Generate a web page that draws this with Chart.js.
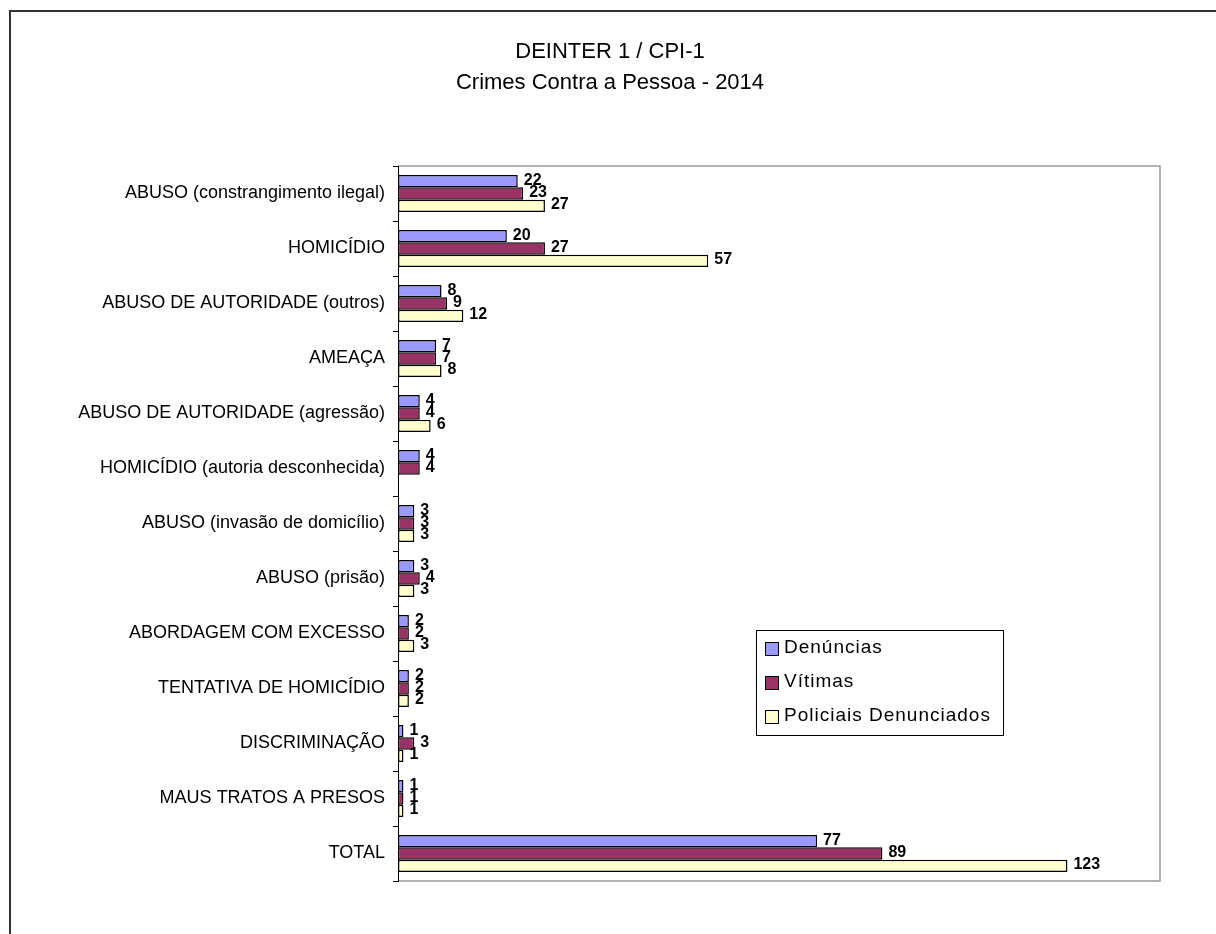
<!DOCTYPE html>
<html>
<head>
<meta charset="utf-8">
<script src="https://cdn.jsdelivr.net/npm/chart.js@4"></script>
<style>
  html, body { margin: 0; padding: 0; background: #fff; }
  #wrap { width: 1216px; height: 934px; }
</style>
</head>
<body>
<div id="wrap"><canvas id="crimesChart" width="1216" height="934"></canvas></div>
<script>
const categories = [
  'ABUSO (constrangimento ilegal)',
  'HOMICÍDIO',
  'ABUSO DE AUTORIDADE (outros)',
  'AMEAÇA',
  'ABUSO DE AUTORIDADE (agressão)',
  'HOMICÍDIO (autoria desconhecida)',
  'ABUSO (invasão de domicílio)',
  'ABUSO (prisão)',
  'ABORDAGEM COM EXCESSO',
  'TENTATIVA DE HOMICÍDIO',
  'DISCRIMINAÇÃO',
  'MAUS TRATOS A PRESOS',
  'TOTAL'
];
const denuncias = [22, 20, 8, 7, 4, 4, 3, 3, 2, 2, 1, 1, 77];
const vitimas = [23, 27, 9, 7, 4, 4, 3, 4, 2, 2, 3, 1, 89];
const policiais = [27, 57, 12, 8, 6, null, 3, 3, 3, 2, 1, 1, 123];
const seriesNames = ['Denúncias', 'Vítimas', 'Policiais Denunciados'];
const titleLines = ['DEINTER 1 / CPI-1', 'Crimes Contra a Pessoa - 2014'];

const FONT = 'Liberation Sans, Arial, sans-serif';

// frame, title, plot border, value labels and legend box, drawn like the Excel original
const excelLook = {
  id: 'excelLook',
  beforeDraw(chart) {
    const c = chart.ctx;
    c.save();
    c.fillStyle = '#fff';
    c.fillRect(0, 0, chart.width, chart.height);
    c.strokeStyle = '#333';
    c.lineWidth = 2;
    c.beginPath();
    c.moveTo(10, chart.height);
    c.lineTo(10, 11);
    c.lineTo(chart.width, 11);
    c.stroke();

    c.fillStyle = '#000';
    c.font = '22px ' + FONT;
    c.textAlign = 'center';
    c.textBaseline = 'middle';
    titleLines.forEach((t, i) => c.fillText(t, 610, 52 + i * 31));

    const a = chart.chartArea;
    c.strokeStyle = '#999';
    c.lineWidth = 1.5;
    c.beginPath();
    c.moveTo(a.left, a.top);
    c.lineTo(a.right, a.top);
    c.lineTo(a.right, a.bottom);
    c.lineTo(a.left, a.bottom);
    c.stroke();
    c.restore();
  },
  afterDatasetsDraw(chart) {
    const c = chart.ctx;
    c.save();
    c.font = 'bold 16px ' + FONT;
    c.fillStyle = '#000';
    c.textBaseline = 'middle';
    chart.data.datasets.forEach((ds, i) => {
      chart.getDatasetMeta(i).data.forEach((bar, j) => {
        if (ds.data[j] == null) return;
        c.fillText(String(ds.data[j]), bar.x + 6, bar.y - 1);
      });
    });

    // legend
    const lx = 756, ly = 630, lw = 247, lh = 105;
    c.fillStyle = '#fff';
    c.fillRect(lx, ly, lw, lh);
    c.strokeStyle = '#000';
    c.lineWidth = 1;
    c.strokeRect(lx + 0.5, ly + 0.5, lw, lh);
    c.font = '19px ' + FONT;
    c.letterSpacing = '1px';
    chart.data.datasets.forEach((ds, i) => {
      const cy = ly + 18 + i * 34;
      c.fillStyle = ds.backgroundColor;
      c.fillRect(lx + 9, cy - 6, 14, 14);
      c.strokeStyle = '#000';
      c.strokeRect(lx + 9.5, cy - 5.5, 13, 13);
      c.fillStyle = '#000';
      c.fillText(ds.label, lx + 28, cy);
    });
    c.restore();
  }
};

const ctx = document.getElementById('crimesChart').getContext('2d');

const crimesChart = new Chart(ctx, {
  type: 'bar',
  data: {
    labels: categories,
    datasets: [
      {
        label: seriesNames[0],
        data: denuncias,
        backgroundColor: '#9999FF',
        borderColor: '#000',
        borderWidth: 1.5,
        borderSkipped: false
      },
      {
        label: seriesNames[1],
        data: vitimas,
        backgroundColor: '#993366',
        borderColor: '#000',
        borderWidth: 1.5,
        borderSkipped: false
      },
      {
        label: seriesNames[2],
        data: policiais,
        backgroundColor: '#FFFFCC',
        borderColor: '#000',
        borderWidth: 1.5,
        borderSkipped: false
      }
    ]
  },
  options: {
    indexAxis: 'y',
    responsive: false,
    animation: false,
    categoryPercentage: 0.67,
    barPercentage: 1,
    layout: {
      padding: { left: 0, right: 56, top: 166, bottom: 53 }
    },
    plugins: {
      legend: { display: false },
      tooltip: { enabled: false },
      title: { display: false }
    },
    scales: {
      x: {
        display: false,
        min: 0,
        max: 140
      },
      y: {
        afterFit: (scale) => { scale.width = 398; },
        grid: {
          drawOnChartArea: false,
          drawTicks: true,
          tickLength: 5,
          color: '#000'
        },
        border: { display: true, color: '#000', width: 1 },
        ticks: {
          color: '#000',
          padding: 8,
          font: { family: FONT, size: 18 }
        }
      }
    }
  },
  plugins: [excelLook]
});
</script>
</body>
</html>
